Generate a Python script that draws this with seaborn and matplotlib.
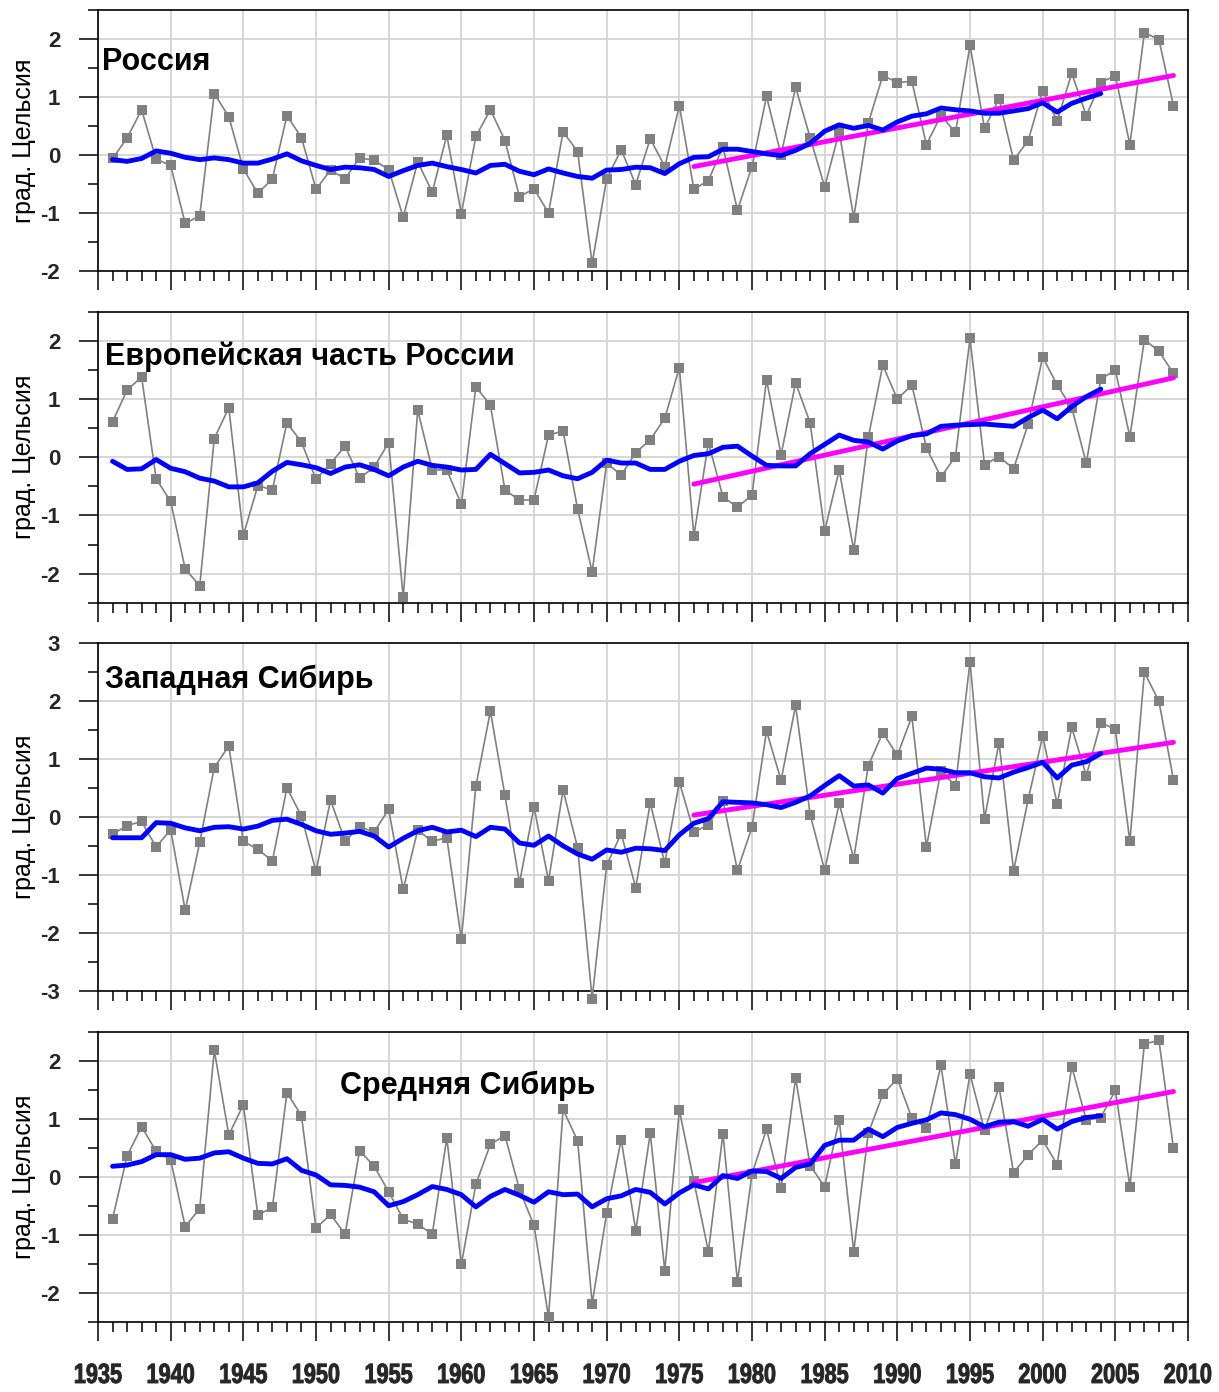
import numpy as np
import pandas as pd
import matplotlib
matplotlib.use("Agg")
import matplotlib.pyplot as plt
import seaborn as sns
from matplotlib import patheffects
from matplotlib.transforms import Affine2D
from matplotlib.ticker import MultipleLocator

# ---- data: annual temperature anomalies (°C), 1936-2009 ----
years = list(range(1936, 2010))
smooth_years = list(range(1936, 2005))

russia = [
    -0.06, 0.29, 0.78, -0.07, -0.18, -1.18, -1.05, 1.06, 0.66, -0.24,
    -0.66, -0.41, 0.68, 0.30, -0.59, -0.26, -0.41, -0.05, -0.09, -0.25,
    -1.07, -0.12, -0.64, 0.34, -1.01, 0.32, 0.78, 0.25, -0.72, -0.58,
    -1.00, 0.40, 0.06, -1.87, -0.41, 0.09, -0.51, 0.28, -0.20, 0.85,
    -0.59, -0.44, 0.14, -0.95, -0.20, 1.01, 0.00, 1.17, 0.30, -0.55,
    0.40, -1.08, 0.55, 1.37, 1.25, 1.27, 0.18, 0.68, 0.39, 1.89,
    0.46, 0.97, -0.09, 0.25, 1.11, 0.59, 1.41, 0.68, 1.25, 1.37,
    0.18, 2.11, 1.99, 0.85,
]
russia_smooth = [
    -0.08, -0.11, -0.06, 0.07, 0.03, -0.04, -0.08, -0.05, -0.08, -0.14,
    -0.14, -0.07, 0.02, -0.10, -0.18, -0.25, -0.21, -0.22, -0.25, -0.37,
    -0.27, -0.18, -0.14, -0.20, -0.25, -0.31, -0.18, -0.16, -0.28, -0.34,
    -0.24, -0.31, -0.37, -0.40, -0.26, -0.25, -0.21, -0.22, -0.32, -0.15,
    -0.04, -0.03, 0.10, 0.10, 0.06, 0.02, -0.01, 0.08, 0.20, 0.41,
    0.52, 0.46, 0.51, 0.43, 0.57, 0.67, 0.71, 0.81, 0.78, 0.76,
    0.72, 0.72, 0.76, 0.80, 0.90, 0.74, 0.89, 0.98, 1.06,
]

europe = [
    0.61, 1.15, 1.38, -0.37, -0.76, -1.92, -2.21, 0.32, 0.85, -1.34,
    -0.49, -0.56, 0.59, 0.26, -0.38, -0.11, 0.19, -0.36, -0.17, 0.25,
    -2.40, 0.81, -0.22, -0.22, -0.81, 1.21, 0.89, -0.56, -0.74, -0.73,
    0.38, 0.45, -0.89, -1.97, -0.10, -0.31, 0.08, 0.30, 0.67, 1.54,
    -1.35, 0.25, -0.68, -0.86, -0.65, 1.33, 0.04, 1.28, 0.59, -1.27,
    -0.22, -1.60, 0.34, 1.58, 1.00, 1.24, 0.16, -0.34, 0.01, 2.04,
    -0.13, 0.01, -0.20, 0.57, 1.72, 1.24, 0.85, -0.10, 1.34, 1.50,
    0.35, 2.02, 1.82, 1.44,
]
europe_smooth = [
    -0.07, -0.21, -0.20, -0.04, -0.19, -0.25, -0.36, -0.41, -0.51, -0.51,
    -0.44, -0.24, -0.09, -0.13, -0.18, -0.28, -0.17, -0.13, -0.21, -0.32,
    -0.17, -0.07, -0.14, -0.17, -0.22, -0.21, 0.05, -0.11, -0.27, -0.26,
    -0.22, -0.32, -0.37, -0.26, -0.05, -0.10, -0.10, -0.21, -0.21, -0.07,
    0.03, 0.06, 0.17, 0.19, 0.02, -0.14, -0.15, -0.15, 0.06, 0.22,
    0.38, 0.29, 0.26, 0.14, 0.28, 0.37, 0.40, 0.53, 0.55, 0.56,
    0.57, 0.55, 0.53, 0.68, 0.81, 0.66, 0.87, 1.04, 1.17,
]

west_siberia = [
    -0.30, -0.15, -0.08, -0.52, -0.22, -1.61, -0.44, 0.85, 1.22, -0.42,
    -0.56, -0.76, 0.50, 0.01, -0.94, 0.29, -0.42, -0.17, -0.26, 0.13,
    -1.25, -0.23, -0.42, -0.36, -2.11, 0.53, 1.82, 0.37, -1.14, 0.17,
    -1.10, 0.46, -0.53, -3.13, -0.83, -0.29, -1.22, 0.24, -0.80, 0.60,
    -0.26, -0.14, 0.28, -0.92, -0.18, 1.48, 0.63, 1.92, 0.04, -0.92,
    0.23, -0.72, 0.88, 1.45, 1.06, 1.73, -0.52, 0.79, 0.53, 2.67,
    -0.03, 1.28, -0.93, 0.30, 1.39, 0.22, 1.54, 0.71, 1.62, 1.51,
    -0.42, 2.49, 1.99, 0.64,
]
west_siberia_smooth = [
    -0.36, -0.36, -0.36, -0.10, -0.11, -0.19, -0.24, -0.18, -0.17, -0.21,
    -0.16, -0.06, -0.04, -0.13, -0.24, -0.30, -0.28, -0.25, -0.33, -0.52,
    -0.37, -0.24, -0.18, -0.26, -0.23, -0.34, -0.18, -0.21, -0.45, -0.49,
    -0.33, -0.50, -0.64, -0.73, -0.57, -0.61, -0.54, -0.55, -0.58, -0.31,
    -0.11, -0.03, 0.26, 0.25, 0.24, 0.21, 0.16, 0.25, 0.36, 0.54,
    0.71, 0.53, 0.55, 0.41, 0.66, 0.75, 0.84, 0.82, 0.76, 0.76,
    0.69, 0.67, 0.77, 0.85, 0.94, 0.67, 0.89, 0.95, 1.09,
]

central_siberia = [
    -0.73, 0.36, 0.86, 0.44, 0.29, -0.86, -0.55, 2.18, 0.72, 1.24,
    -0.66, -0.53, 1.45, 1.05, -0.89, -0.65, -0.99, 0.45, 0.18, -0.26,
    -0.73, -0.82, -0.99, 0.67, -1.51, -0.13, 0.56, 0.71, -0.22, -0.84,
    -2.42, 1.16, 0.62, -2.19, -0.63, 0.64, -0.93, 0.75, -1.62, 1.15,
    -0.08, -1.29, 0.74, -1.81, 0.05, 0.82, -0.20, 1.70, 0.19, -0.17,
    0.98, -1.29, 0.75, 1.42, 1.69, 1.01, 0.84, 1.92, 0.22, 1.77,
    0.80, 1.54, 0.07, 0.38, 0.63, 0.21, 1.90, 0.98, 1.02, 1.49,
    -0.17, 2.29, 2.35, 0.49,
]
central_siberia_smooth = [
    0.18, 0.20, 0.26, 0.38, 0.38, 0.30, 0.32, 0.41, 0.43, 0.32,
    0.23, 0.22, 0.31, 0.11, 0.03, -0.14, -0.15, -0.18, -0.26, -0.50,
    -0.43, -0.31, -0.17, -0.22, -0.31, -0.52, -0.34, -0.22, -0.32, -0.44,
    -0.26, -0.31, -0.30, -0.52, -0.38, -0.33, -0.22, -0.27, -0.47, -0.28,
    -0.14, -0.21, 0.02, -0.03, 0.10, 0.09, -0.03, 0.16, 0.22, 0.54,
    0.63, 0.63, 0.82, 0.69, 0.85, 0.92, 0.98, 1.10, 1.07, 0.99,
    0.86, 0.94, 0.95, 0.87, 0.99, 0.82, 0.95, 1.02, 1.05,
]

trend_from = 1976
region_titles = ["Россия", "Европейская часть России", "Западная Сибирь", "Средняя Сибирь"]
y_label = "град. Цельсия"
x_tick_years = list(range(1935, 2011, 5))


class NarrowText(patheffects.AbstractPathEffect):
    """Squeeze glyphs horizontally about the centre of the text, with a thin outline."""

    def __init__(self, sx, stroke=0.0):
        super().__init__()
        self.sx = sx
        self.stroke = stroke

    def draw_path(self, renderer, gc, tpath, affine, rgbFace=None):
        verts = tpath.vertices
        if len(verts):
            cx = 0.5 * (verts[:, 0].min() + verts[:, 0].max())
            squeeze = Affine2D().translate(-cx, 0).scale(self.sx, 1).translate(cx, 0)
            affine = squeeze + affine
        gc0 = renderer.new_gc()
        gc0.copy_properties(gc)
        if self.stroke > 0:
            gc0.set_linewidth(self.stroke)
            gc0.set_foreground(rgbFace if rgbFace is not None else "black")
        renderer.draw_path(gc0, tpath, affine, rgbFace)
        gc0.restore()


# ---- style ----
sns.set_theme(style="white")
plt.rcParams["font.family"] = ["Liberation Sans", "DejaVu Sans"]

GRAY = "#808080"
BLUE = "#0000ff"
MAGENTA = "#ff00ff"
GRID = "#d4d4d4"

W, H = 1219, 1392
fig = plt.figure(figsize=(W / 100, H / 100), dpi=100)

# panel boxes in pixels: (top, bottom)
left_px, right_px = 98, 1188
boxes = [(10, 271), (311.7, 602.7), (642.7, 991), (1031.7, 1321.7)]
ylims = [(-2, 2.5), (-2.5, 2.5), (-3, 3), (-2.5, 2.5)]
title_pos = [(0.004, 0.8), (0.0064, 0.846), (0.0064, 0.892), (0.222, 0.815)]

series = [
    (russia, russia_smooth),
    (europe, europe_smooth),
    (west_siberia, west_siberia_smooth),
    (central_siberia, central_siberia_smooth),
]

for i, ((annual, smooth), (top, bot), ylim) in enumerate(zip(series, boxes, ylims)):
    ax = fig.add_axes([left_px / W, 1 - bot / H, (right_px - left_px) / W, (bot - top) / H])
    df = pd.DataFrame({"year": years, "anom": annual})
    ds = pd.DataFrame({"year": smooth_years, "anom": smooth})
    dt = df[df["year"] >= trend_from]

    ax.set_xlim(1935, 2010)
    ax.set_ylim(*ylim)
    ax.xaxis.set_major_locator(MultipleLocator(5))
    ax.xaxis.set_minor_locator(MultipleLocator(1))
    ax.yaxis.set_major_locator(MultipleLocator(1))
    ax.yaxis.set_minor_locator(MultipleLocator(0.5))
    ax.grid(True, which="major", color=GRID, linewidth=1.3, zorder=0)
    ax.set_axisbelow(True)

    sns.lineplot(data=df, x="year", y="anom", ax=ax, color=GRAY, linewidth=1.2,
                 marker="s", markersize=6.5, markeredgewidth=0, markerfacecolor=GRAY,
                 clip_on=False, zorder=3)
    sns.regplot(data=dt, x="year", y="anom", ax=ax, scatter=False, ci=None,
                color=MAGENTA, line_kws={"linewidth": 3.5, "zorder": 4,
                                         "solid_capstyle": "round"})
    sns.lineplot(data=ds, x="year", y="anom", ax=ax, color=BLUE, linewidth=3.5,
                 zorder=5, solid_capstyle="round")

    ax.set_xlabel("")
    ax.set_ylabel("")
    ax.set_xlim(1935, 2010)
    ax.set_ylim(*ylim)

    for sp in ax.spines.values():
        sp.set_visible(True)
        sp.set_color("black")
        sp.set_linewidth(1.2)

    ax.tick_params(axis="both", which="major", direction="out", length=13.7, width=1.1,
                   color="black", bottom=True, left=True, top=False, right=False)
    ax.tick_params(axis="both", which="minor", direction="out", length=7.0, width=1.1,
                   color="black", bottom=True, left=True, top=False, right=False)
    ax.tick_params(axis="y", which="major", pad=13.5, labelsize=16)
    yt = np.arange(np.ceil(ylim[0]), np.floor(ylim[1]) + 1)
    ax.set_yticks(yt)
    ax.set_yticklabels([f"{int(v)}" for v in yt], fontweight="bold")

    ax.set_xticks(x_tick_years)
    if i == 3:
        ax.set_xticklabels([str(y) for y in x_tick_years], fontweight="bold", fontsize=20,
                           path_effects=[NarrowText(0.78, stroke=0.7)])
        ax.tick_params(axis="x", which="major", pad=16)
    else:
        ax.set_xticklabels([])

    tx, ty = title_pos[i]
    ax.text(tx, ty, region_titles[i], transform=ax.transAxes, ha="left", va="center",
            fontsize=22, fontweight="bold", color="black", zorder=6)
    ax.text(-0.068, 0.5, y_label, transform=ax.transAxes, rotation=90,
            ha="center", va="center", fontsize=18, color="black")

fig.savefig("out.png", dpi=100)
